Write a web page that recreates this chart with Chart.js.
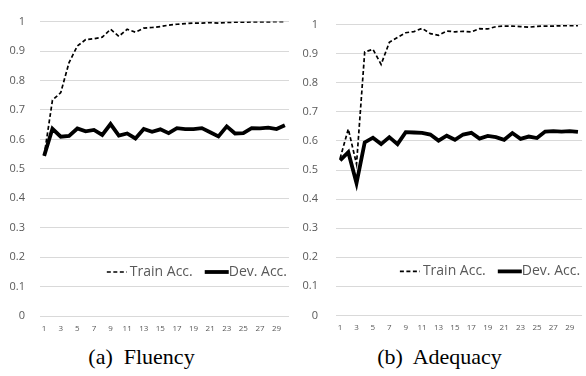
<!DOCTYPE html>
<html>
<head>
<meta charset="utf-8">
<script src="https://cdn.jsdelivr.net/npm/chart.js@4/dist/chart.umd.min.js"></script>
<style>
  html, body { margin: 0; padding: 0; background: #fff; }
  #wrap { position: relative; width: 586px; height: 376px; overflow: hidden; }
  .box { position: absolute; top: 0; width: 293px; height: 340px; }
  .caption { position: absolute; top: 344px; font-family: "Liberation Serif", "Times New Roman", serif;
    font-size: 22px; color: #000; white-space: pre; text-align: center; width: 293px; }
</style>
</head>
<body>
<div id="wrap">
  <div class="box" style="left:0"><canvas id="fluency"></canvas></div>
  <div class="box" style="left:293px"><canvas id="adequacy"></canvas></div>
  <div class="caption" style="left:-5px">(a)  Fluency</div>
  <div class="caption" style="left:293px">(b)  Adequacy</div>
</div>
<script>
// epochs 1..30
const epochs = ['1','2','3','4','5','6','7','8','9','10','11','12','13','14','15',
  '16','17','18','19','20','21','22','23','24','25','26','27','28','29','30'];

const fluencyTrain = [0.545, 0.733, 0.759, 0.861, 0.917, 0.939, 0.942, 0.947, 0.974, 0.950,
  0.974, 0.964, 0.978, 0.980, 0.983, 0.988, 0.991, 0.993, 0.995, 0.995,
  0.997, 0.995, 0.997, 0.998, 0.998, 0.999, 0.999, 0.999, 1.000, 1.000];
const fluencyDev = [0.544, 0.636, 0.609, 0.612, 0.637, 0.627, 0.632, 0.615, 0.652, 0.613,
  0.620, 0.603, 0.635, 0.626, 0.634, 0.621, 0.638, 0.635, 0.635, 0.638,
  0.624, 0.610, 0.644, 0.620, 0.621, 0.638, 0.637, 0.640, 0.635, 0.648];

const adequacyTrain = [0.540, 0.641, 0.520, 0.906, 0.915, 0.863, 0.939, 0.956, 0.972, 0.976,
  0.987, 0.969, 0.963, 0.978, 0.975, 0.977, 0.975, 0.986, 0.985, 0.993,
  0.995, 0.995, 0.993, 0.991, 0.994, 0.995, 0.995, 0.996, 0.996, 0.996];
const adequacyDev = [0.533, 0.561, 0.455, 0.595, 0.611, 0.589, 0.613, 0.589, 0.630, 0.629,
  0.628, 0.622, 0.601, 0.618, 0.604, 0.622, 0.628, 0.608, 0.617, 0.613,
  0.604, 0.627, 0.607, 0.615, 0.610, 0.632, 0.634, 0.632, 0.634, 0.631];

const yTicks = [0, 0.1, 0.2, 0.3, 0.4, 0.5, 0.6, 0.7, 0.8, 0.9, 1];

const tickColor = '#595959';
const gridColor = '#d9d9d9';
const uiFont = '"Open Sans", "Liberation Sans", sans-serif';

// legend drawn inside the plot, bottom right, like the Excel original
const innerLegend = {
  id: 'innerLegend',
  afterDraw(chart) {
    const { ctx, chartArea } = chart;
    const y = chartArea.bottom - 44;
    ctx.save();
    ctx.font = '14px ' + uiFont;
    ctx.textBaseline = 'middle';
    ctx.fillStyle = tickColor;
    const items = chart.data.datasets;
    let x = chartArea.right - 2;
    // draw right to left
    for (let i = items.length - 1; i >= 0; i--) {
      const ds = items[i];
      const w = ctx.measureText(ds.label).width;
      x -= w;
      ctx.fillText(ds.label, x, y);
      const sw = ds.borderDash ? 20 : 24;
      x -= ds.borderDash ? 3 : 0;
      ctx.beginPath();
      ctx.strokeStyle = ds.borderColor;
      ctx.lineWidth = ds.borderWidth;
      ctx.setLineDash(ds.borderDash || []);
      ctx.moveTo(x - sw, y);
      ctx.lineTo(x, y);
      ctx.stroke();
      x -= sw + 12;
    }
    ctx.restore();
  }
};

function makeChart(id, train, dev, yWidth, labelGap, padRight) {
  return new Chart(document.getElementById(id), {
    type: 'line',
    data: {
      labels: epochs,
      datasets: [
        {
          label: 'Train Acc.',
          data: train,
          borderColor: '#000',
          borderWidth: 1.7,
          borderDash: [4, 2.5],
          pointRadius: 0,
          tension: 0,
          order: 1
        },
        {
          label: 'Dev. Acc.',
          data: dev,
          borderColor: '#000',
          borderWidth: 3.8,
          pointRadius: 0,
          tension: 0,
          borderJoinStyle: 'miter',
          order: 0
        }
      ]
    },
    options: {
      responsive: true,
      maintainAspectRatio: false,
      animation: false,
      layout: { padding: { top: 15, right: padRight, bottom: 0, left: 0 } },
      plugins: {
        legend: { display: false },
        tooltip: { enabled: false }
      },
      scales: {
        x: {
          offset: true,
          grid: { display: false, drawTicks: false },
          border: { display: false },
          afterFit: (s) => { s.height = 24; },
          ticks: {
            color: tickColor,
            font: { family: uiFont, size: 8 },
            autoSkip: false,
            maxRotation: 0,
            padding: 8,
            callback: function (v, i) { return i % 2 === 0 ? this.getLabelForValue(v) : ''; }
          }
        },
        y: {
          min: 0,
          max: 1,
          afterFit: (s) => { s.width = yWidth; },
          afterBuildTicks: (s) => { s.ticks = yTicks.map(v => ({ value: v })); },
          grid: { color: gridColor, lineWidth: 1, drawTicks: false },
          border: { display: false },
          ticks: {
            color: tickColor,
            font: { family: uiFont, size: 11 },
            padding: labelGap,
            callback: (v) => String(Math.round(v * 10) / 10)
          }
        }
      }
    },
    plugins: [innerLegend]
  });
}

makeChart('fluency', fluencyTrain, fluencyDev, 40, 15, 4);
makeChart('adequacy', adequacyTrain, adequacyDev, 43, 18, 2);
</script>
</body>
</html>
